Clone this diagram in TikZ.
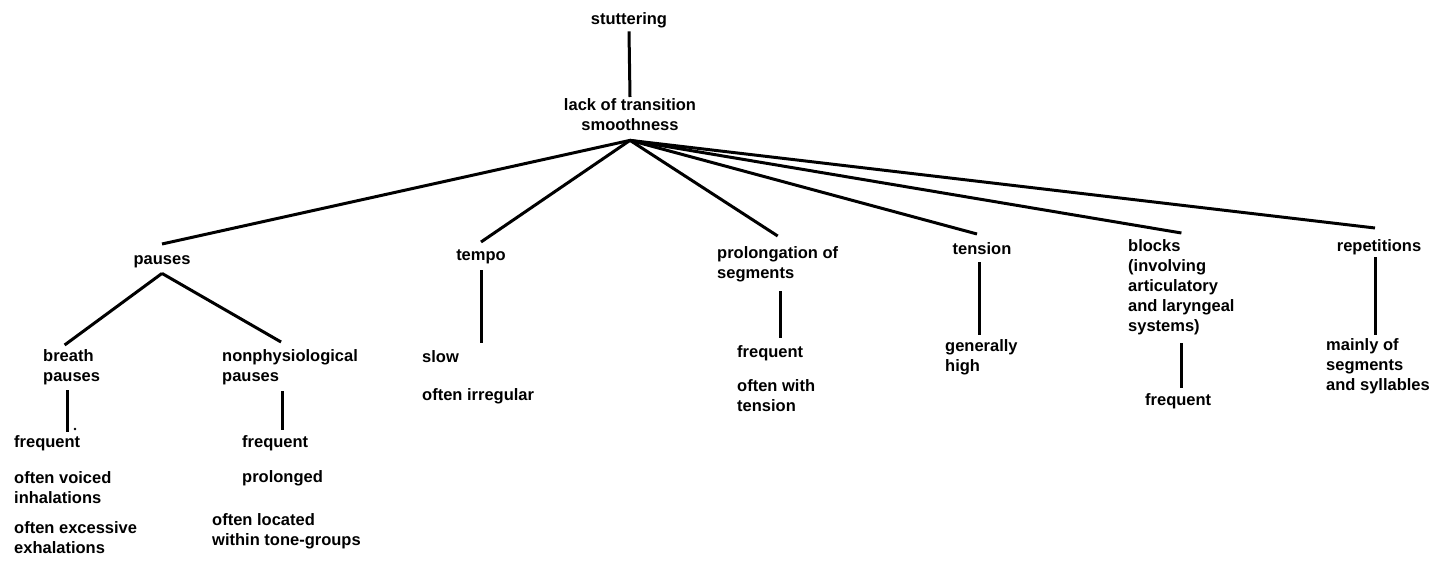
\documentclass[tikz,border=0pt]{standalone}
\usepackage{fontspec}
\setmainfont{Liberation Sans}
\begin{document}
\begin{tikzpicture}[x=1pt,y=-1pt,
  lbl/.style={inner sep=0pt, font=\fontsize{16.5}{20}\selectfont\bfseries, align=left,
    execute at begin node=\strut, execute at end node=\strut},
  ctr/.style={lbl, align=center, anchor=north},
  lft/.style={lbl, anchor=north west},
  ln/.style={line width=3pt}]
\useasboundingbox (0,0) rectangle (1435,562);
% top
\node[ctr] (stut) at (629,10) {stuttering};
\node[ctr] (lack) at (630,98) {lack of transition\\smoothness};
\coordinate (hub) at ([yshift=-4pt]lack.south);
% first level
\node[ctr] (pauses) at (162,250) {pauses};
\node[ctr] (tempo) at (481,246) {tempo};
\node[lft] (prolong) at (717,246) {prolongation of\\segments};
\node[ctr] (tension) at (982,240) {tension};
\node[lft] (blocks) at (1128,239) {blocks\\(involving\\articulatory\\and laryngeal\\systems)};
\node[ctr] (reps) at (1379,237) {repetitions};
% pauses children
\node[lft] (breath) at (43,349) {breath\\pauses};
\node[lft] (nonphys) at (222,349) {nonphysiological\\pauses};
\node[lft] (bfr) at (14,433) {frequent};
\node[lft] (voiced) at (14,471) {often voiced\\inhalations};
\node[lft] (excess) at (14,521) {often excessive\\exhalations};
\node[lft] (nfreq) at (242,433) {frequent};
\node[lft] (prolonged) at (242,468) {prolonged};
\node[lft] (located) at (212,513) {often located\\within tone-groups};
% other children
\node[lft] (slow) at (422,348) {slow};
\node[lft] (irreg) at (422,386) {often irregular};
\node[lft] (pfreq) at (737,343) {frequent};
\node[lft] (pwith) at (737,379) {often with\\tension};
\node[lft] (genhigh) at (945,339) {generally\\high};
\node[lft] (blfreq) at (1145,391) {frequent};
\node[lft] (mainly) at (1326,338) {mainly of\\segments\\and syllables};
% connectors
\draw[ln] ([yshift=-1pt]stut.south) -- ([yshift=1pt]lack.north);
\draw[ln] (hub) -- ([yshift=6pt]pauses.north);
\draw[ln] (hub) -- ([yshift=4pt]tempo.north);
\draw[ln] (hub) -- ([yshift=10pt]prolong.north);
\draw[ln] (hub) -- ([shift={(-5,-6)}]tension.north);
\draw[ln] (hub) -- ([yshift=6pt]blocks.north);
\draw[ln] (hub) -- ([shift={(-4,-9)}]reps.north);
\draw[ln] ([yshift=-3pt]pauses.south) -- ([shift={(-7,-4)}]breath.north);
\draw[ln] ([yshift=-3pt]pauses.south) -- ([shift={(-9,-7)}]nonphys.north);
\draw[ln] ([shift={(-4,3)}]breath.south) -- ([shift={(-4,-1)}]breath.south |- bfr.north);
\fill (75,429) circle (1.4);
\draw[ln] ([shift={(-8,4)}]nonphys.south) -- ([shift={(-8,-3)}]nonphys.south |- nfreq.north);
\draw[ln] ([yshift=-4pt]tempo.south) -- ([yshift=5pt]tempo.south |- slow.north);
\draw[ln] ([shift={(3,7)}]prolong.south) -- ([shift={(3,-5)}]prolong.south |- pfreq.north);
\draw[ln] ([shift={(-3,2)}]tension.south) -- ([shift={(-3,-4)}]tension.south |- genhigh.north);
\draw[ln] ([shift={(0,6)}]blocks.south) -- ([shift={(0,-3)}]blocks.south |- blfreq.north);
\draw[ln] ([shift={(-4,0)}]reps.south) -- ([shift={(-4,-3)}]reps.south |- mainly.north);
\end{tikzpicture}
\end{document}
